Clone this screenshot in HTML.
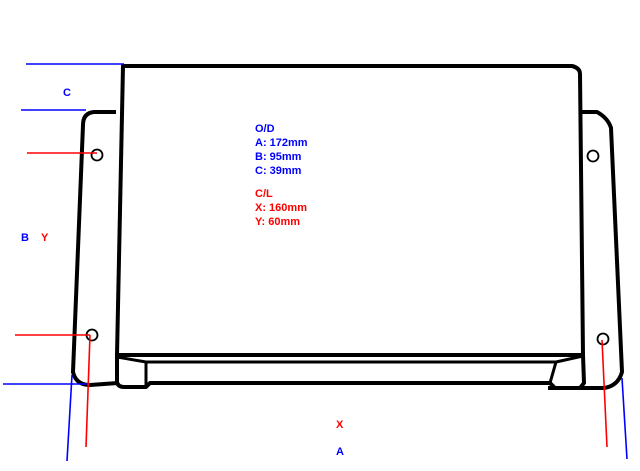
<!DOCTYPE html>
<html><head><style>body{margin:0;background:#fff}svg{display:block}text{font-family:"Liberation Sans",sans-serif;font-weight:bold;font-size:11px}</style></head><body>
<svg width="640" height="471" viewBox="0 0 640 471" xmlns="http://www.w3.org/2000/svg">
<g fill="none" stroke="#000" stroke-width="4" stroke-linejoin="round">
<path d="M116,112 L94,112 Q83,113 83,125 L73,372 Q76,385 90,385 L118,383"/>
<path d="M582,112 L597,112 Q608,118 611,128 L622,372 Q618,386 604,388 L548,388"/>
<path d="M117,355 L123,66 L572,66 Q580,68 580,74 L583,355 Z"/>
<path d="M117,355 L117,382 Q118,387 124,387 L146,387 L150,383 L550,383 L555,388 L580,388 L584,383 L583,355"/>
<path d="M117,357 L146,362 L146,387" stroke-width="3"/>
<path d="M146,362 L556,362 L550,383" stroke-width="3"/>
<path d="M556,362 L583,356" stroke-width="3"/>
</g>
<g fill="none" stroke="#000" stroke-width="1.8">
<circle cx="97" cy="155" r="5.5"/><circle cx="92" cy="335" r="5.5"/>
<circle cx="593" cy="156" r="5.5"/><circle cx="603" cy="339" r="5.5"/>
</g>
<g stroke="#00f" stroke-width="1.6">
<line x1="26" y1="64" x2="124" y2="64"/><line x1="21" y1="110" x2="86" y2="110"/>
<line x1="3" y1="384" x2="88" y2="384"/><line x1="72" y1="375" x2="67" y2="461"/>
<line x1="622" y1="378" x2="627" y2="459"/>
</g>
<g stroke="#f00" stroke-width="1.6">
<line x1="27" y1="153" x2="97" y2="153"/><line x1="15" y1="335" x2="90" y2="335"/>
<line x1="90" y1="335" x2="86" y2="447"/><line x1="602" y1="340" x2="607" y2="447"/>
</g>
<text x="63" y="96" fill="#00f">C</text>
<text x="21" y="241" fill="#00f">B</text><text x="41" y="241" fill="#f00">Y</text>
<text x="336" y="428" fill="#f00">X</text><text x="336" y="455" fill="#00f">A</text>
<g fill="#00f"><text x="255" y="132">O/D</text><text x="255" y="146">A: 172mm</text><text x="255" y="160">B: 95mm</text><text x="255" y="174">C: 39mm</text></g>
<g fill="#f00"><text x="255" y="197">C/L</text><text x="255" y="211">X: 160mm</text><text x="255" y="225">Y: 60mm</text></g>
</svg>
</body></html>
